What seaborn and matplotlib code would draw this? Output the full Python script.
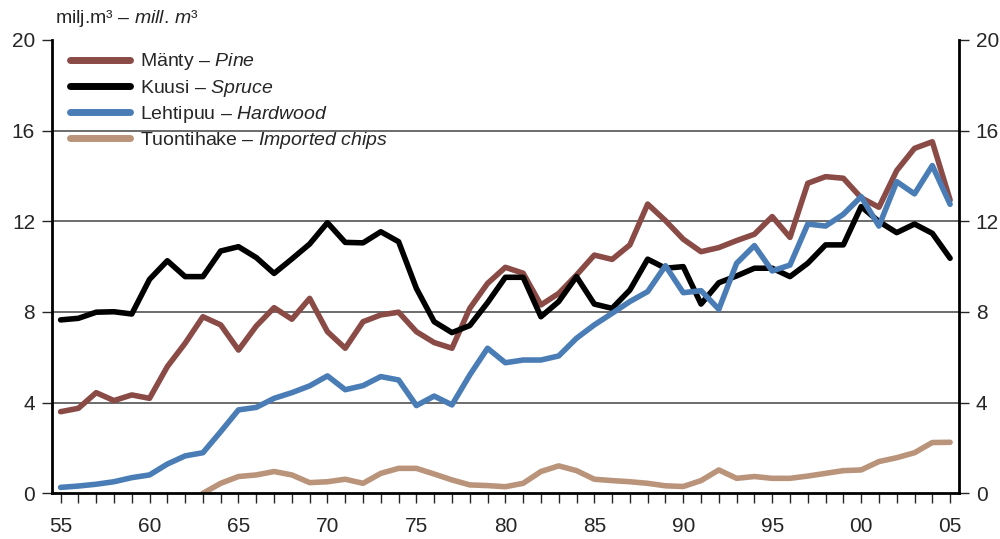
import numpy as np
import pandas as pd
import seaborn as sns
import matplotlib.pyplot as plt
from matplotlib.ticker import MultipleLocator, FuncFormatter

# vuodet 1955-2005
years = list(range(1955, 2006))

pine = [3.60, 3.75, 4.44, 4.09, 4.34, 4.19, 5.59, 6.62, 7.79, 7.43,
        6.32, 7.38, 8.19, 7.68, 8.60, 7.13, 6.40, 7.57, 7.87, 7.99,
        7.13, 6.65, 6.40, 8.16, 9.26, 9.97, 9.71, 8.31, 8.82, 9.63,
        10.51, 10.32, 10.96, 12.76, 12.03, 11.21, 10.66, 10.84, 11.15, 11.43,
        12.21, 11.29, 13.68, 13.97, 13.90, 13.04, 12.62, 14.24, 15.22, 15.51,
        12.94]

spruce = [7.65, 7.72, 7.99, 8.01, 7.91, 9.44, 10.26, 9.56, 9.56, 10.69,
          10.88, 10.40, 9.70, 10.34, 11.00, 11.94, 11.07, 11.05, 11.54, 11.10,
          9.04, 7.57, 7.09, 7.40, 8.41, 9.53, 9.53, 7.79, 8.46, 9.56,
          8.35, 8.16, 8.97, 10.33, 9.93, 10.00, 8.35, 9.29, 9.59, 9.93,
          9.93, 9.56, 10.15, 10.96, 10.96, 12.65, 11.99, 11.50, 11.88, 11.47,
          10.37]

hardwood = [0.26, 0.32, 0.40, 0.51, 0.69, 0.81, 1.29, 1.65, 1.79, 2.72,
            3.68, 3.79, 4.19, 4.44, 4.74, 5.18, 4.57, 4.75, 5.15, 5.00,
            3.87, 4.29, 3.90, 5.22, 6.40, 5.76, 5.88, 5.88, 6.06, 6.84,
            7.43, 7.94, 8.46, 8.90, 10.04, 8.85, 8.94, 8.12, 10.15, 10.93,
            9.81, 10.07, 11.88, 11.79, 12.31, 13.09, 11.79, 13.75, 13.21, 14.46,
            12.75]

# tuontihake alkaa 1963
chips = [np.nan] * 8 + [
    0.00, 0.44, 0.74, 0.81, 0.96, 0.81, 0.47, 0.51, 0.62, 0.44,
    0.88, 1.10, 1.10, 0.85, 0.59, 0.37, 0.34, 0.29, 0.44, 0.96,
    1.21, 1.00, 0.62, 0.56, 0.51, 0.44, 0.33, 0.30, 0.56, 1.03,
    0.66, 0.74, 0.66, 0.66, 0.76, 0.88, 1.00, 1.03, 1.40, 1.57,
    1.79, 2.24, 2.25]

labels = ["Mänty – $\\mathit{Pine}$",
          "Kuusi – $\\mathit{Spruce}$",
          "Lehtipuu – $\\mathit{Hardwood}$",
          "Tuontihake – $\\mathit{Imported\\ chips}$"]
colors = ["#8a4a45", "#000000", "#4a7db6", "#ba947a"]

df = pd.DataFrame({"year": years, labels[0]: pine, labels[1]: spruce,
                   labels[2]: hardwood, labels[3]: chips})
long_df = df.melt(id_vars="year", var_name="sarja", value_name="value")

sns.set_style("white")
plt.rcParams["font.family"] = ["Liberation Sans", "DejaVu Sans"]
plt.rcParams["mathtext.fontset"] = "custom"
plt.rcParams["mathtext.rm"] = "Liberation Sans"
plt.rcParams["mathtext.it"] = "Liberation Sans:italic"

fig = plt.figure(figsize=(10, 5.39), dpi=100)
ax = fig.add_axes([0.0517, 0.0848, 0.9073, 0.841])

sns.lineplot(data=long_df, x="year", y="value", hue="sarja",
             palette=dict(zip(labels, colors)), linewidth=4.0,
             solid_capstyle="round", solid_joinstyle="round", ax=ax)

ax.set_xlim(1954.5, 2005.5)
ax.set_ylim(0, 20)
ax.set_xlabel("")
ax.set_ylabel("")

for s in ["left", "right", "bottom"]:
    ax.spines[s].set_visible(True)
    ax.spines[s].set_color("black")
    ax.spines[s].set_linewidth(2)
ax.spines["top"].set_visible(False)

ax.xaxis.set_major_locator(MultipleLocator(5))
ax.xaxis.set_minor_locator(MultipleLocator(1))
ax.xaxis.set_major_formatter(FuncFormatter(lambda v, p: "%02d" % (int(v) % 100)))
ax.tick_params(axis="x", which="both", direction="out", length=7, width=1,
               bottom=True, pad=10, labelsize=15)
ax.set_yticks([0, 4, 8, 12, 16, 20])
ax.tick_params(axis="y", direction="out", length=7, width=1, labelsize=15,
               left=True, right=True, labelleft=True, labelright=True, pad=5)

# ruudukko 4-16, ei ylärajalla
ax.yaxis.grid(True, color="#444444", linewidth=1.1)
ax.set_axisbelow(True)
ax.yaxis.get_major_ticks()[-1].gridline.set_visible(False)
ax.yaxis.get_major_ticks()[0].gridline.set_visible(False)

leg = ax.legend(loc="upper left", bbox_to_anchor=(0.005, 1.005), frameon=False,
                fontsize=14, handlelength=3.1, handletextpad=0.5,
                labelspacing=0.27, borderaxespad=0.3)
for line in leg.get_lines():
    line.set_linewidth(5)
    line.set_solid_capstyle("round")

fig.text(0.055, 0.965, "milj.m³ – $\\mathit{mill.\\,m}$³", fontsize=14,
         ha="left", va="center")

plt.savefig("out.png", dpi=100)
